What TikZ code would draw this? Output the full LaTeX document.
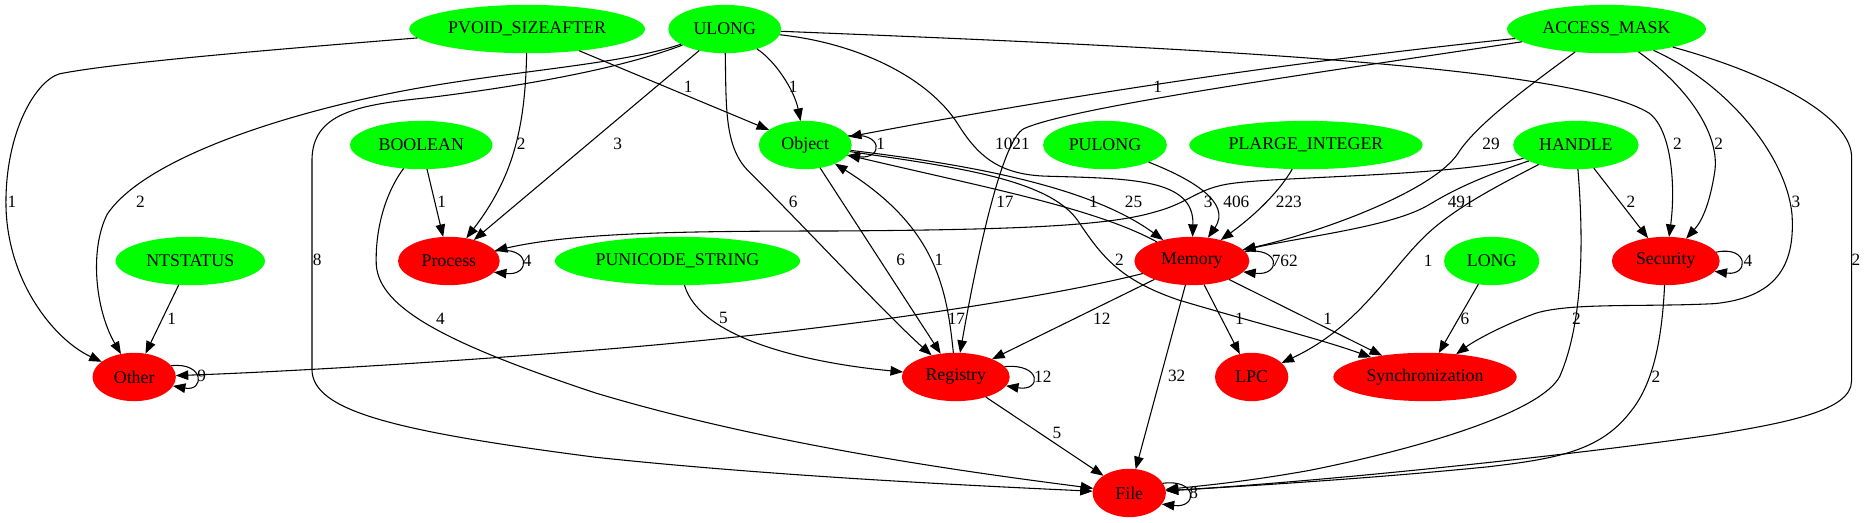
\documentclass[tikz,border=0pt]{standalone}
\usepackage{fontspec}
\setmainfont{Liberation Serif}
\usetikzlibrary{arrows.meta,shapes.geometric}
\definecolor{gvgreen}{HTML}{00FF00}
\definecolor{gvred}{HTML}{FF0000}
\begin{document}
\begin{tikzpicture}[x=1pt,y=-1pt,
  gnode/.style={ellipse, inner sep=0pt, outer sep=0pt, minimum height=40.6pt, font=\fontsize{15}{18}\selectfont},
  srcnode/.style={gnode, fill=gvgreen},
  dstnode/.style={gnode, fill=gvred},
  conn/.style={line width=0.9pt, -{Triangle[length=10.5pt,width=8pt]}},
  elabel/.style={inner sep=0pt, font=\fontsize{14.5}{17}\selectfont}
]
\fill[white] (0,0) rectangle (1568,439);
\useasboundingbox (0,0) rectangle (1568,439);

% nodes
\node[srcnode, minimum width=198pt] (pvoid) at (442.7,24.4) {PVOID\_SIZEAFTER};
\node[srcnode, minimum width=94.8pt] (ulong) at (608.7,24.4) {ULONG};
\node[srcnode, minimum width=167pt] (access) at (1349.2,24.4) {ACCESS\_MASK};
\node[srcnode, minimum width=119.6pt] (boolean) at (353.8,121.8) {BOOLEAN};
\node[srcnode, minimum width=78pt] (object) at (676.3,121.8) {Object};
\node[srcnode, minimum width=104pt] (pulong) at (928,121.8) {PULONG};
\node[srcnode, minimum width=196pt] (plarge) at (1096.8,121.8) {PLARGE\_INTEGER};
\node[srcnode, minimum width=105.4pt] (handle) at (1323.5,121.8) {HANDLE};
\node[srcnode, minimum width=125.4pt] (ntstatus) at (159.8,219.2) {NTSTATUS};
\node[dstnode, minimum width=85.4pt] (process) at (377,219.2) {Process};
\node[srcnode, minimum width=206pt] (punicode) at (569,219.2) {PUNICODE\_STRING};
\node[dstnode, minimum width=96.6pt] (memory) at (1001,219.2) {Memory};
\node[srcnode, minimum width=80pt] (long) at (1252.8,219.2) {LONG};
\node[dstnode, minimum width=90.6pt] (security) at (1399,219.2) {Security};
\node[dstnode, minimum width=70pt] (other) at (112.7,316.6) {Other};
\node[dstnode, minimum width=90.6pt] (registry) at (802.7,316.6) {Registry};
\node[dstnode, minimum width=61.6pt] (lpc) at (1051.2,316.6) {LPC};
\node[dstnode, minimum width=154pt] (sync) at (1196.8,316.6) {Synchronization};
\node[dstnode, minimum width=61.6pt] (file) at (948.4,414) {File};

% edges from PVOID_SIZEAFTER
\draw[conn] (pvoid) .. controls (250,40) and (100,52) .. (50,62) .. controls (30,68) and (5,110) .. (5,170) .. controls (5,235) and (45,285) .. (other);
\draw[conn] (pvoid) .. controls (441,110) and (430,150) .. (process);
\draw[conn] (pvoid) -- (object);
% edges from ULONG
\draw[conn] (ulong) .. controls (520,55) and (420,60) .. (330,78) .. controls (230,98) and (120,135) .. (90,180) .. controls (75,210) and (80,260) .. (other);
\draw[conn] (ulong) .. controls (520,58) and (440,72) .. (360,82) .. controls (300,88) and (262,95) .. (262,135) -- (262,310) .. controls (262,345) and (330,362) .. (500,384) .. controls (650,400) and (820,408) .. (file);
\draw[conn] (ulong) -- (process);
\draw[conn] (ulong) .. controls (650,50) and (667,75) .. (object);
\draw[conn] (ulong) .. controls (610,90) and (608,125) .. (630,145) .. controls (680,195) and (745,265) .. (registry);
\draw[conn] (ulong) .. controls (720,36) and (780,65) .. (805,105) .. controls (822,132) and (840,147) .. (880,148) .. controls (950,150) and (1003,150) .. (memory);
\draw[conn] (ulong) .. controls (1000,40) and (1320,55) .. (1385,95) .. controls (1405,110) and (1407,160) .. (security);
% edges from ACCESS_MASK
\draw[conn] (access) .. controls (1150,45) and (950,70) .. (object);
\draw[conn] (access) .. controls (1100,62) and (900,90) .. (860,108) .. controls (840,118) and (818,230) .. (registry);
\draw[conn] (access) .. controls (1280,75) and (1240,105) .. (1225,128) .. controls (1205,160) and (1110,195) .. (memory);
\draw[conn] (access) .. controls (1420,75) and (1445,115) .. (1440,145) .. controls (1436,170) and (1430,185) .. (security);
\draw[conn] (access) .. controls (1450,70) and (1500,130) .. (1505,180) .. controls (1508,225) and (1490,250) .. (1440,255) .. controls (1380,258) and (1320,254) .. (1290,263) .. controls (1265,272) and (1240,285) .. (sync);
\draw[conn] (access) .. controls (1480,60) and (1552,95) .. (1555,130) -- (1555,320) .. controls (1555,345) and (1500,355) .. (1440,365) .. controls (1300,385) and (1100,405) .. (file);
% BOOLEAN, NTSTATUS, PUNICODE_STRING, PULONG, PLARGE_INTEGER
\draw[conn] (boolean) -- (process);
\draw[conn] (boolean) .. controls (325,160) and (315,190) .. (316,222) .. controls (318,260) and (380,290) .. (500,330) .. controls (640,372) and (800,395) .. (file);
\draw[conn] (ntstatus) -- (other);
\draw[conn] (punicode) .. controls (588,285) and (680,305) .. (registry);
\draw[conn] (pulong) .. controls (1000,150) and (1035,170) .. (memory);
\draw[conn] (plarge) .. controls (1075,160) and (1055,180) .. (memory);
% HANDLE
\draw[conn] (handle) .. controls (1220,148) and (1080,148) .. (1035,154) .. controls (1005,158) and (1000,170) .. (970,178) .. controls (930,190) and (850,193) .. (700,194) .. controls (560,194) and (480,196) .. (process);
\draw[conn] (handle) .. controls (1240,150) and (1220,160) .. (1200,172) .. controls (1170,190) and (1100,198) .. (memory);
\draw[conn] (handle) .. controls (1260,155) and (1220,175) .. (1195,200) .. controls (1165,230) and (1140,275) .. (lpc);
\draw[conn] (handle) -- (security);
\draw[conn] (handle) .. controls (1330,200) and (1330,270) .. (1310,316) .. controls (1295,345) and (1200,375) .. (1100,395) .. controls (1050,404) and (1010,408) .. (file);
% LONG
\draw[conn] (long) -- (sync);
% Object
\draw[conn] (object.12) .. controls (742,110) and (742,134) .. (object.-14);
\draw[conn] (object) .. controls (830,140) and (920,160) .. (memory);
\draw[conn] (object) -- (registry);
\draw[conn] (object) .. controls (800,140) and (880,150) .. (905,185) .. controls (925,215) and (940,235) .. (990,252) .. controls (1050,270) and (1110,285) .. (sync);
% Memory
\draw[conn] (memory.10) .. controls (1076,207) and (1076,232) .. (memory.-12);
\draw[conn] (memory) .. controls (920,175) and (830,158) .. (object);
\draw[conn] (memory) .. controls (880,250) and (700,278) .. (500,294) .. controls (350,306) and (220,313) .. (other);
\draw[conn] (memory) -- (registry);
\draw[conn] (memory) -- (lpc);
\draw[conn] (memory) -- (sync);
\draw[conn] (memory) -- (file);
% Registry
\draw[conn] (registry.12) .. controls (875,305) and (875,329) .. (registry.-10);
\draw[conn] (registry) .. controls (795,240) and (785,190) .. (object);
\draw[conn] (registry) -- (file);
% Process, Other, Security, File
\draw[conn] (process.12) .. controls (446,206) and (446,232) .. (process.-14);
\draw[conn] (other.17) .. controls (172,304) and (172,329) .. (other.-13);
\draw[conn] (security.10) .. controls (1469,206) and (1469,232) .. (security.-12);
\draw[conn] (security) .. controls (1396,280) and (1390,320) .. (1370,345) .. controls (1345,378) and (1310,385) .. (1250,392) .. controls (1150,402) and (1050,408) .. (file);
\draw[conn] (file.16) .. controls (1006,402) and (1006,427) .. (file.-19);

% edge labels
\node[elabel] (l01) at (578,73.3) {1};
\node[elabel] (l02) at (666.2,73.3) {1};
\node[elabel] (l03) at (972.2,73.3) {1};
\node[elabel] (l04) at (437.7,121) {2};
\node[elabel] (l05) at (518.8,121) {3};
\node[elabel] (l06) at (739.7,121) {1};
\node[elabel] (l07) at (850.3,121) {1021};
\node[elabel] (l08) at (1252.2,121) {29};
\node[elabel] (l09) at (1408.8,121) {2};
\node[elabel] (l10) at (1443.4,121) {2};
\node[elabel] (l11) at (10,169.4) {1};
\node[elabel] (l12) at (117.9,169.4) {2};
\node[elabel] (l13) at (371,169.4) {1};
\node[elabel] (l14) at (666.2,169.4) {6};
\node[elabel] (l15) at (844,169.4) {17};
\node[elabel] (l16) at (918.3,169.4) {1};
\node[elabel] (l17) at (952,169.4) {25};
\node[elabel] (l18) at (1014.7,169.4) {3};
\node[elabel] (l19) at (1038.4,169.4) {406};
\node[elabel] (l20) at (1082.4,169.4) {223};
\node[elabel] (l21) at (1226.8,169.4) {491};
\node[elabel] (l22) at (1369.8,169.4) {2};
\node[elabel] (l23) at (1508.2,169.4) {3};
\node[elabel] (l24) at (266.4,218.4) {8};
\node[elabel] (l25) at (442.7,219) {4};
\node[elabel] (l26) at (756.4,218.4) {6};
\node[elabel] (l27) at (788.6,218.4) {1};
\node[elabel] (l28) at (940.2,218.4) {2};
\node[elabel] (l29) at (1079,219) {762};
\node[elabel] (l30) at (1199.5,219) {1};
\node[elabel] (l31) at (1467.9,219) {4};
\node[elabel] (l32) at (1558.6,218.4) {2};
\node[elabel] (l33) at (144.2,267.4) {1};
\node[elabel] (l34) at (370,267.4) {4};
\node[elabel] (l35) at (607.6,267.4) {5};
\node[elabel] (l36) at (803.3,267.4) {17};
\node[elabel] (l37) at (925.3,267.4) {12};
\node[elabel] (l38) at (1041,267.4) {1};
\node[elabel] (l39) at (1115,267.4) {1};
\node[elabel] (l40) at (1230.4,267.4) {6};
\node[elabel] (l41) at (1324,267.4) {2};
\node[elabel] (l42) at (169.4,315.4) {9};
\node[elabel] (l43) at (875.8,316.6) {12};
\node[elabel] (l44) at (988.2,315.4) {32};
\node[elabel] (l45) at (1390.8,316.6) {2};
\node[elabel] (l46) at (887.6,364) {5};
\node[elabel] (l47) at (1002.5,414) {8};
\end{tikzpicture}
\end{document}
